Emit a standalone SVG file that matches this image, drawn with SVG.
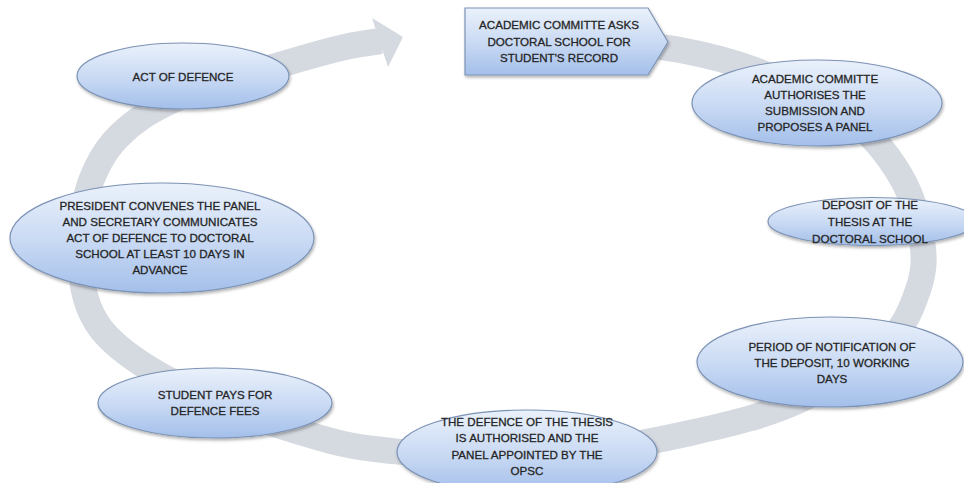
<svg xmlns="http://www.w3.org/2000/svg" width="964" height="483" viewBox="0 0 964 483">
<defs>
<linearGradient id="nodeFill" x1="0" y1="0" x2="0" y2="1">
<stop offset="0" stop-color="#eaf1fb"/>
<stop offset="0.5" stop-color="#cbdbf4"/>
<stop offset="1" stop-color="#a3bfea"/>
</linearGradient>
<filter id="shadow" x="-10%" y="-20%" width="120%" height="150%">
<feDropShadow dx="1" dy="2" stdDeviation="1.8" flood-color="#000" flood-opacity="0.3"/>
</filter>
</defs>
<style>
.node{fill:url(#nodeFill);stroke:#7d93b5;stroke-width:1.2;filter:url(#shadow)}
.lbl{font-family:"Liberation Sans",Arial,sans-serif;font-size:11.6px;fill:#1e1e1e;stroke:#2a2a2a;stroke-width:0.3;text-anchor:middle}
.band{fill:none;stroke:#d5d9e0;stroke-width:26;stroke-linecap:butt}
.head{fill:#d5d9e0}
</style>
<rect width="964" height="483" fill="#fff"/>
<g id="connectors">
<path class="band" d="M600,40 C613,42 653,45 680,50 C707,55 732,61 760,72 C788,83 827,101 850,118 C873,135 888,155 900,175 C912,195 919,221 922,240 C925,259 924,272.5 918,290 C912,307.5 905,327 885,345 C865,363 832.5,385 800,400 C767.5,415 735,423 690,433 C645,443 581,455 530,458 C479,461 421,454 383,450 C345,446 330.5,441 300,432 C269.5,423 229,408 200,395 C171,382 143,366 125,352 C107,338 97.5,327 90,310 C82.5,293 80.3,270 80,250 C79.7,230 81.7,209 88,190 C94,171 102.7,152.5 118,137 C133,121.5 150,110 180,97 C210,84 272.5,67 300,59 C327.5,51 331.7,50 345,47 C358,44 374,42 381,41"/>
<polygon class="head" points="372,18 403,37 388,67"/>
</g>
<g id="n1">
<polygon class="node" points="465,8 648,8 668,42 648,75 465,75"/>
<text class="lbl" x="559" y="29">ACADEMIC COMMITTE ASKS</text>
<text class="lbl" x="559" y="45.5">DOCTORAL SCHOOL FOR</text>
<text class="lbl" x="559" y="62">STUDENT'S RECORD</text>
</g>
<g id="n2">
<ellipse class="node" cx="817" cy="103" rx="125" ry="43"/>
<text class="lbl" x="815" y="83">ACADEMIC COMMITTE</text>
<text class="lbl" x="815" y="99">AUTHORISES THE</text>
<text class="lbl" x="815" y="115">SUBMISSION AND</text>
<text class="lbl" x="815" y="131">PROPOSES A PANEL</text>
</g>
<g id="n3">
<ellipse class="node" cx="872" cy="221.5" rx="104" ry="24"/>
<text class="lbl" x="870" y="209">DEPOSIT OF THE</text>
<text class="lbl" x="870" y="226">THESIS AT THE</text>
<text class="lbl" x="870" y="243">DOCTORAL SCHOOL</text>
</g>
<g id="n4">
<ellipse class="node" cx="830" cy="362" rx="133" ry="45"/>
<text class="lbl" x="832" y="351">PERIOD OF NOTIFICATION OF</text>
<text class="lbl" x="832" y="367">THE DEPOSIT, 10 WORKING</text>
<text class="lbl" x="832" y="383">DAYS</text>
</g>
<g id="n5">
<ellipse class="node" cx="527" cy="452" rx="130" ry="42"/>
<text class="lbl" x="527" y="426">THE DEFENCE OF THE THESIS</text>
<text class="lbl" x="527" y="442">IS AUTHORISED AND THE</text>
<text class="lbl" x="527" y="459">PANEL APPOINTED BY THE</text>
<text class="lbl" x="527" y="475">OPSC</text>
</g>
<g id="n6">
<ellipse class="node" cx="215" cy="403" rx="117" ry="35"/>
<text class="lbl" x="215" y="399">STUDENT PAYS FOR</text>
<text class="lbl" x="215" y="415">DEFENCE FEES</text>
</g>
<g id="n7">
<ellipse class="node" cx="162" cy="238" rx="152" ry="55"/>
<text class="lbl" x="160" y="210">PRESIDENT CONVENES THE PANEL</text>
<text class="lbl" x="160" y="226">AND SECRETARY COMMUNICATES</text>
<text class="lbl" x="160" y="242">ACT OF DEFENCE TO DOCTORAL</text>
<text class="lbl" x="160" y="258">SCHOOL AT LEAST 10 DAYS IN</text>
<text class="lbl" x="160" y="274">ADVANCE</text>
</g>
<g id="n8">
<ellipse class="node" cx="183" cy="76" rx="106" ry="33"/>
<text class="lbl" x="183" y="81">ACT OF DEFENCE</text>
</g>
</svg>
